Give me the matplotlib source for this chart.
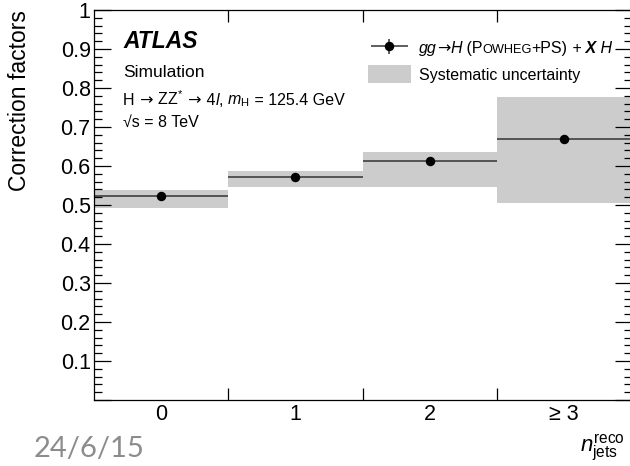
import numpy as np
import matplotlib
matplotlib.use('Agg')
import matplotlib.pyplot as plt
from matplotlib.patches import Patch
from matplotlib.legend_handler import HandlerErrorbar
from matplotlib.offsetbox import TextArea, HPacker, AnchoredOffsetbox
from matplotlib.ticker import MultipleLocator, FuncFormatter

plt.rcParams['font.family'] = ['Liberation Sans', 'DejaVu Sans']
plt.rcParams['mathtext.fontset'] = 'custom'
plt.rcParams['mathtext.rm'] = 'Liberation Sans'
plt.rcParams['mathtext.it'] = 'Liberation Sans:italic'
plt.rcParams['mathtext.bf'] = 'Liberation Sans:bold'

# reco jet multiplicity bins
nj = np.array([0, 1, 2, 3])
nj_labels = ['0', '1', '2', '\u2265 3']
bin_edges = [0.5, 1.5, 2.5]
# correction factors and systematic band
cf = np.array([0.524, 0.571, 0.614, 0.669])
sys_lo = np.array([0.493, 0.547, 0.547, 0.504])
sys_hi = np.array([0.538, 0.586, 0.637, 0.776])

band_col = '#cccccc'

fig = plt.figure(figsize=(6.3, 4.66), dpi=100)
ax = fig.add_axes([93.5/630, 1-400/466, 538/630, 390/466])

ax.bar(nj, sys_hi-sys_lo, bottom=sys_lo, width=1.0, color=band_col, lw=0)
ax.errorbar(nj, cf, xerr=0.5, fmt='o', color='black', ms=5.8,
            ecolor='#333333', elinewidth=1.1, capsize=0)
# proxy only for the legend entry
eb = ax.errorbar([np.nan], [np.nan], xerr=1, yerr=1, fmt='o', color='black',
                 ms=5.8, ecolor='#333333', elinewidth=1.1, capsize=0)

ax.set_xlim(-0.5, 3.5)
ax.set_ylim(0, 1)

ax.set_xticks(bin_edges)
ax.set_xticks(nj, nj_labels, minor=True)
ax.tick_params(axis='x', which='major', direction='in', top=True, length=8.5,
               width=0.9, labelbottom=False)
ax.tick_params(axis='x', which='minor', length=0, labelsize=15.5, pad=3)

ax.yaxis.set_major_locator(MultipleLocator(0.1))
ax.yaxis.set_minor_locator(MultipleLocator(0.02))
ax.yaxis.set_major_formatter(FuncFormatter(lambda v, p: '' if v < 0.05 else '%g' % round(v, 2)))
ax.tick_params(axis='y', which='major', direction='in', right=True, length=12,
               width=0.9, labelsize=15.5, pad=2)
ax.tick_params(axis='y', which='minor', direction='in', right=True, length=6, width=0.9)
for s in ax.spines.values():
    s.set_linewidth(0.9)

ax.set_ylabel('Correction factors', fontsize=16.5, loc='top')
ax.yaxis.set_label_coords(-0.116, 1.0)


def packed(pieces, x, y, anchor_tr):
    # row of text pieces sharing one baseline
    pack = HPacker(children=[TextArea(s, textprops=p) for s, p in pieces],
                   align='baseline', pad=0, sep=0)
    ab = AnchoredOffsetbox(loc='lower left', child=pack, bbox_to_anchor=(x, y),
                           bbox_transform=anchor_tr, frameon=False, pad=0, borderpad=0)
    ax.add_artist(ab)


fs = 11.5
rm = dict(fontsize=fs)
it = dict(fontsize=fs, style='italic')
arrow = dict(fontsize=fs, family='DejaVu Sans')

tx = 0.055
ax.text(tx, 0.903, 'ATLAS', transform=ax.transAxes, fontsize=16.5,
        fontweight='bold', style='italic', va='baseline')
ax.text(tx, 0.828, 'Simulation', transform=ax.transAxes, fontsize=12.5, va='baseline')
packed([('H', rm), (' \u2192', arrow), (' ZZ$^{*}$', rm), (' \u2192', arrow), (' 4', rm),
        ('l', it), (',', rm), (r' $m_{\mathrm{H}}$', rm), (' = 125.4 GeV', rm)],
       tx, 0.745, ax.transAxes)
ax.text(tx, 0.700, '\u221as = 8 TeV', transform=ax.transAxes, fontsize=fs, va='baseline')

leg = ax.legend([eb, Patch(facecolor=band_col, lw=0)],
                ['gg\u2192H (POWHEG+PS) + X H', 'Systematic uncertainty'],
                loc='upper left', bbox_to_anchor=(0.51, 0.926), frameon=False,
                fontsize=fs, handlelength=2.7, handleheight=1.4,
                handletextpad=0.5, labelspacing=0.48, borderpad=0, borderaxespad=0,
                handler_map={type(eb): HandlerErrorbar(xerr_size=1.16, yerr_size=0.47)})

fig.text(34/630, 1-457/466, '24/6/15', fontsize=21, color='#8c8c8c',
         family=['Lato', 'DejaVu Sans'], va='baseline')
fig.text(580/630, 1-451/466, r'$n_{\mathrm{jets}}^{\mathrm{reco}}$', fontsize=16, va='baseline')

# first legend label needs small caps and mixed styles
fig.canvas.draw()
t0 = leg.get_texts()[0]
bb = t0.get_window_extent().transformed(fig.transFigure.inverted())
t0.set_visible(False)
packed([('gg', it), ('\u2192', arrow), ('H', it), (' (P', rm), ('OWHEG', dict(fontsize=9.2)),
        ('+PS)', rm), (' +', rm), (' X', dict(fontsize=fs, style='italic', fontweight='bold')),
        (' H', it)],
       bb.x0, bb.y0, fig.transFigure)

fig.savefig('out.png', dpi=100)
